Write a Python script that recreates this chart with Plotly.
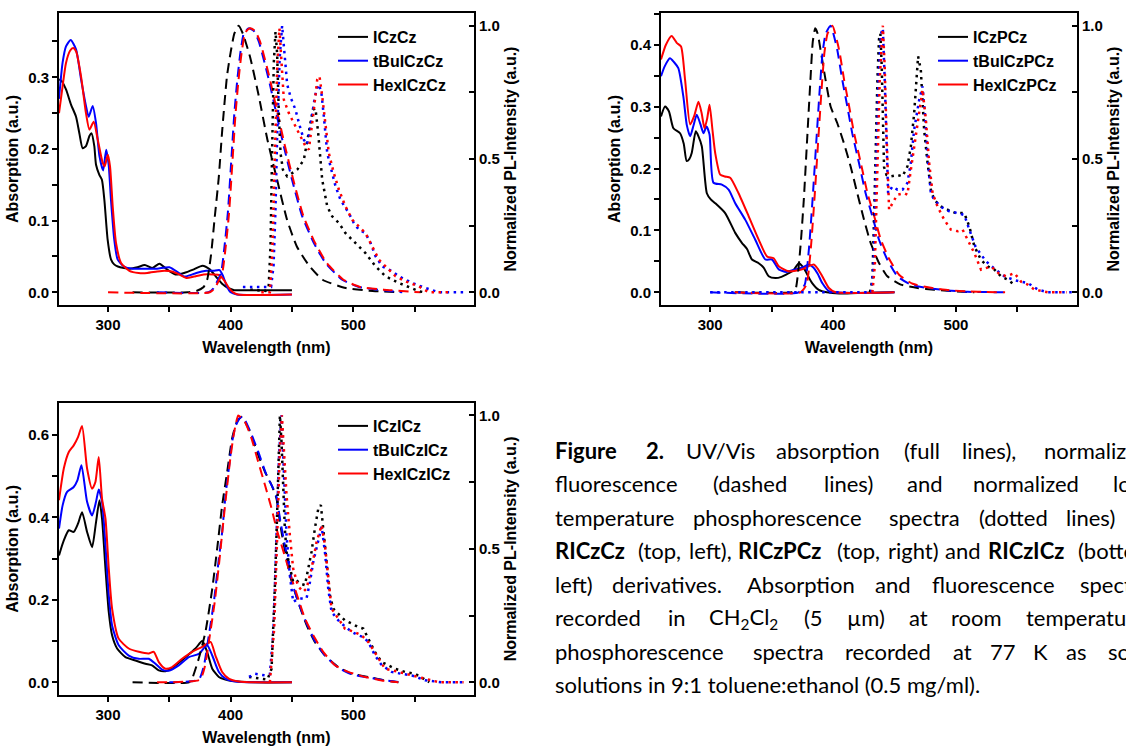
import re
import plotly.graph_objects as go

W, H = 1126, 749
FONT = "Liberation Sans, Arial, sans-serif"
CAP_FONT = "Lato, 'Open Sans', sans-serif"

# ---------------- ICzCz family (top left) ----------------
ICzCz_abs_nm = [260, 262, 265.7, 269.8, 273.9, 276.6, 279.3, 282, 284.8, 286.5, 288.8, 290.2, 292.9, 295, 297, 299.7, 302.4, 305, 308, 313, 318, 324, 330, 336, 342, 348, 355, 362, 370, 377, 383, 388, 393, 398, 403, 410, 450]
ICzCz_abs = [0.297, 0.295, 0.283, 0.262, 0.245, 0.222, 0.201, 0.204, 0.218, 0.222, 0.204, 0.178, 0.164, 0.157, 0.129, 0.073, 0.046, 0.039, 0.036, 0.034, 0.033, 0.035, 0.038, 0.034, 0.040, 0.032, 0.025, 0.027, 0.032, 0.037, 0.032, 0.022, 0.012, 0.006, 0.003, 0.003, 0.003]
tBuICzCz_abs_nm = [260, 262.9, 265.7, 269.5, 273.9, 278, 282, 284.2, 287.5, 290.2, 293, 296, 298.5, 300.5, 302.4, 305.1, 307.8, 313, 320, 330, 340, 350, 357, 362, 367, 372, 380, 386, 391, 394, 397, 400, 405, 450]
tBuICzCz_abs = [0.27, 0.32, 0.343, 0.352, 0.339, 0.297, 0.26, 0.245, 0.26, 0.236, 0.19, 0.17, 0.199, 0.178, 0.129, 0.073, 0.046, 0.036, 0.033, 0.033, 0.033, 0.035, 0.028, 0.022, 0.024, 0.027, 0.03, 0.03, 0.031, 0.022, 0.008, 0.0, -0.003, -0.003]
HexICzCz_abs_nm = [260, 262.9, 265.7, 269, 271.5, 274, 278, 282, 284.8, 288.3, 291.6, 295.6, 297.3, 299.8, 301.6, 303.8, 306.5, 310.6, 317.4, 325, 332, 340, 346, 352, 358, 364, 370, 378, 386, 391, 395, 399, 402, 406, 450]
HexICzCz_abs = [0.25, 0.287, 0.32, 0.337, 0.341, 0.336, 0.301, 0.25, 0.227, 0.238, 0.213, 0.181, 0.176, 0.192, 0.176, 0.12, 0.069, 0.041, 0.03, 0.027, 0.027, 0.029, 0.03, 0.029, 0.025, 0.02, 0.022, 0.025, 0.025, 0.024, 0.016, 0.005, 0.0, -0.003, -0.003]

ICzCz_fl_nm = [320, 365, 372, 378, 381, 384, 387, 390.3, 393, 397, 400, 403, 406.5, 410, 416, 423, 430, 438, 446, 454, 464, 475, 494, 513, 537]
ICzCz_fl = [0, 0, 0.005, 0.02, 0.05, 0.14, 0.28, 0.43, 0.6, 0.81, 0.9, 0.97, 1.0, 0.97, 0.88, 0.735, 0.572, 0.42, 0.272, 0.172, 0.10, 0.047, 0.016, 0.006, 0.0]
tBuICzCz_fl_nm = [340, 382, 386, 390, 392.2, 395, 397.7, 400.4, 403, 405.5, 408, 411, 415, 419, 423, 431, 436.6, 443.4, 450.2, 458.4, 467.9, 477.4, 491, 504.6, 523.7, 540]
tBuICzCz_fl = [0, 0, 0.015, 0.05, 0.072, 0.172, 0.297, 0.485, 0.67, 0.8, 0.9, 0.975, 0.99, 0.98, 0.94, 0.80, 0.685, 0.547, 0.42, 0.285, 0.185, 0.11, 0.047, 0.02, 0.008, 0.0]
HexICzCz_fl_nm = [300, 383, 387, 391, 393.2, 396, 398.7, 401.4, 404, 406.5, 409, 412, 416, 420, 424, 432, 437.6, 444.4, 451.2, 459.4, 468.9, 478.4, 492, 505.6, 524.7, 555]
HexICzCz_fl = [0, 0, 0.015, 0.05, 0.072, 0.172, 0.297, 0.485, 0.67, 0.8, 0.9, 0.975, 0.99, 0.98, 0.94, 0.80, 0.685, 0.547, 0.42, 0.285, 0.185, 0.11, 0.047, 0.02, 0.01, 0.0]

ICzCz_ph_nm = [416, 428.4, 431, 432.5, 433.9, 435.2, 436.6, 437.9, 439.3, 440.7, 442.6, 446.1, 450.2, 454.3, 459.7, 463.8, 467.1, 469.2, 471.4, 474.7, 478.8, 482.8, 488.3, 493.7, 501.9, 510, 518.2, 526.4, 537.3, 548.1, 553.6, 558]
ICzCz_ph = [0.01, 0.005, 0.02, 0.17, 0.547, 0.86, 0.978, 0.897, 0.672, 0.522, 0.46, 0.435, 0.447, 0.46, 0.497, 0.597, 0.685, 0.69, 0.597, 0.422, 0.322, 0.285, 0.26, 0.222, 0.185, 0.147, 0.097, 0.06, 0.035, 0.016, 0.004, 0.0]
tBuICzCz_ph_nm = [410, 425, 433, 435, 436.5, 438, 440, 442, 444, 446.1, 449, 452.9, 456, 459.7, 462.4, 465.1, 467.9, 470, 472, 474, 476, 478.8, 482.8, 485.6, 489.6, 496.4, 500.5, 504.6, 510, 514.1, 518.2, 523.7, 531.8, 537.3, 548.1, 559, 570, 592]
tBuICzCz_ph = [0.02, 0.02, 0.02, 0.1, 0.3, 0.6, 0.88, 1.0, 0.9, 0.78, 0.73, 0.685, 0.63, 0.572, 0.555, 0.622, 0.71, 0.76, 0.78, 0.75, 0.66, 0.522, 0.447, 0.397, 0.347, 0.297, 0.26, 0.235, 0.222, 0.185, 0.135, 0.097, 0.079, 0.06, 0.035, 0.016, 0.0, 0.0]
HexICzCz_ph_nm = [425, 432, 434, 436, 438, 439.8, 441.5, 443.4, 447.5, 451.5, 455.6, 461.1, 463.8, 466, 467.9, 470.6, 472.5, 474.7, 477.4, 480.1, 484, 488.3, 493.7, 499.2, 504.6, 510, 515.5, 521, 529.1, 534.5, 542.7, 553.6, 561.7, 580]
HexICzCz_ph = [0.0, 0.0, 0.15, 0.5, 0.85, 0.99, 0.88, 0.722, 0.672, 0.635, 0.597, 0.547, 0.535, 0.61, 0.685, 0.797, 0.81, 0.735, 0.622, 0.522, 0.45, 0.385, 0.322, 0.272, 0.247, 0.222, 0.172, 0.122, 0.085, 0.06, 0.041, 0.022, 0.0, 0.0]

# ---------------- ICzPCz family (top right) ----------------
ICzPCz_abs_nm = [260, 263.3, 266.5, 270.1, 275.5, 278.5, 280.9, 283, 285.0, 288.3, 290.5, 293.2, 297.3, 300.5, 304.1, 312.2, 320.4, 325.8, 330, 334.0, 339.5, 343.5, 347.6, 353.1, 358, 363.9, 368, 372.1, 376.2, 380, 383.0, 388.4, 395, 405, 420, 450]
ICzPCz_abs = [0.284, 0.300, 0.292, 0.265, 0.257, 0.24, 0.212, 0.215, 0.225, 0.26, 0.252, 0.236, 0.160, 0.15, 0.144, 0.128, 0.096, 0.080, 0.07, 0.053, 0.047, 0.04, 0.026, 0.023, 0.025, 0.031, 0.036, 0.047, 0.039, 0.025, 0.015, 0.004, 0.0, -0.002, -0.001, 0.0]
tBuICzPCz_abs_nm = [260, 263, 267.3, 270.5, 274.1, 278.2, 281, 283.7, 286.5, 289.1, 292, 294.6, 297, 299.5, 302.7, 309.5, 315.0, 320.4, 328.6, 336.7, 344.9, 350.3, 355.8, 362, 369.4, 375, 380.3, 384, 387.5, 391.2, 396.6, 402, 420, 450]
tBuICzPCz_abs = [0.349, 0.365, 0.378, 0.372, 0.362, 0.316, 0.27, 0.252, 0.27, 0.287, 0.272, 0.257, 0.268, 0.255, 0.177, 0.174, 0.166, 0.144, 0.117, 0.085, 0.053, 0.053, 0.037, 0.033, 0.037, 0.04, 0.045, 0.04, 0.03, 0.015, 0.002, 0.0, -0.001, 0.0]
HexICzPCz_abs_nm = [260, 264, 268.7, 272.8, 276.3, 279.6, 283.7, 287, 290.5, 293, 295.4, 297.5, 299.5, 302, 304.1, 308.2, 312, 316.3, 323.1, 331.3, 339.5, 346.3, 351.7, 355.8, 363.9, 374.8, 380, 384.3, 387.6, 391.2, 396.6, 402, 420, 450]
HexICzPCz_abs = [0.376, 0.4, 0.414, 0.403, 0.397, 0.343, 0.271, 0.285, 0.308, 0.29, 0.265, 0.28, 0.303, 0.26, 0.225, 0.19, 0.187, 0.185, 0.160, 0.123, 0.085, 0.058, 0.055, 0.042, 0.034, 0.037, 0.042, 0.045, 0.038, 0.026, 0.007, 0.0, -0.001, 0.0]

ICzPCz_fl_nm = [320, 366, 369.4, 373.5, 376.2, 378.9, 381.6, 383.5, 385.5, 387.5, 389.8, 393.9, 398, 403.4, 408.8, 414.3, 419.7, 425.2, 430.6, 437.4, 444.2, 455.1, 468.7, 482.3, 498.6, 515]
ICzPCz_fl = [0, 0, 0.01, 0.173, 0.347, 0.572, 0.797, 0.94, 0.99, 0.97, 0.91, 0.797, 0.697, 0.635, 0.56, 0.472, 0.372, 0.272, 0.185, 0.11, 0.06, 0.029, 0.016, 0.01, 0.004, 0.0]
tBuICzPCz_fl_nm = [300, 372, 377, 380.5, 383.5, 386.3, 389, 391.5, 394, 398, 403.4, 407.5, 411.6, 415.6, 421.1, 426.5, 432, 437.4, 444.2, 452.4, 463.3, 476.9, 493.2, 509.5, 542]
tBuICzPCz_fl = [0, 0, 0.03, 0.17, 0.36, 0.56, 0.75, 0.9, 0.97, 1.0, 0.91, 0.797, 0.697, 0.597, 0.485, 0.372, 0.285, 0.197, 0.122, 0.06, 0.029, 0.016, 0.007, 0.002, 0.0]
HexICzPCz_fl_nm = [320, 373.5, 378.5, 382, 385, 387.8, 390.5, 393, 395.5, 399.5, 404.9, 409, 413.1, 417.1, 422.6, 428, 433.5, 438.9, 445.7, 453.9, 464.8, 478.4, 494.7, 511, 540]
HexICzPCz_fl = [0, 0, 0.03, 0.17, 0.36, 0.56, 0.75, 0.9, 0.97, 1.0, 0.91, 0.797, 0.697, 0.597, 0.485, 0.372, 0.285, 0.197, 0.125, 0.065, 0.032, 0.018, 0.008, 0.003, 0.0]

ICzPCz_ph_nm = [430, 432, 433.5, 434.7, 436.1, 437.4, 438.5, 439.6, 440.6, 441.5, 443.5, 446.9, 452.4, 456.5, 460.5, 463.3, 466, 468.2, 469.2, 471.4, 472.8, 474.1, 476.9, 479.6, 482.3, 487.7, 493.2, 500, 506.8, 510.9, 515, 520.4, 525.8, 531.3, 536.7, 542.2, 547]
ICzPCz_ph = [0.0, 0.047, 0.3, 0.547, 0.797, 0.95, 0.97, 0.85, 0.62, 0.47, 0.44, 0.435, 0.44, 0.435, 0.472, 0.547, 0.672, 0.822, 0.885, 0.835, 0.735, 0.61, 0.485, 0.385, 0.347, 0.322, 0.31, 0.297, 0.297, 0.247, 0.172, 0.122, 0.097, 0.085, 0.06, 0.047, 0.03]
tBuICzPCz_ph_nm = [300, 431, 433, 435, 437, 439, 440.5, 442, 444.8, 448.3, 452.4, 456.5, 460.5, 463.3, 466, 470.1, 472.8, 474.7, 476.9, 479.6, 482.3, 488, 494, 501.4, 506.8, 510.9, 516, 524.5, 531, 539.5, 548, 558.5, 566.7, 575, 595]
tBuICzPCz_ph = [0, 0.0, 0.1, 0.45, 0.8, 0.97, 0.99, 0.8, 0.372, 0.397, 0.385, 0.385, 0.41, 0.485, 0.61, 0.722, 0.772, 0.672, 0.51, 0.372, 0.347, 0.32, 0.305, 0.297, 0.29, 0.235, 0.17, 0.116, 0.09, 0.06, 0.045, 0.035, 0.01, 0.0, 0.0]
HexICzPCz_ph_nm = [432, 434, 436, 438, 440.5, 442, 443.5, 445.6, 449, 452.4, 457.8, 460.5, 463, 466, 470.1, 472.8, 475.5, 478.2, 481, 485, 490.5, 495.9, 501.4, 505.4, 509.5, 515, 520.4, 524, 528.6, 535, 541, 547.6, 553, 558, 564, 575, 590]
HexICzPCz_ph = [0, 0.1, 0.45, 0.8, 1.0, 0.85, 0.6, 0.31, 0.34, 0.366, 0.372, 0.366, 0.45, 0.547, 0.672, 0.76, 0.65, 0.485, 0.372, 0.322, 0.272, 0.235, 0.229, 0.235, 0.197, 0.147, 0.085, 0.09, 0.097, 0.07, 0.06, 0.072, 0.04, 0.03, 0.01, 0.0, 0.0]

# ---------------- ICzICz family (bottom left) ----------------
ICzICz_abs_nm = [260, 264, 268, 272, 275.5, 278.8, 282.9, 287, 290.2, 293, 295.1, 297.9, 300.6, 303.3, 307.4, 314.2, 322.3, 330.5, 335.9, 341.4, 346.8, 351, 355, 363.2, 371.3, 376.8, 380.8, 385, 390.4, 395, 401, 420, 450]
ICzICz_abs = [0.308, 0.345, 0.369, 0.365, 0.385, 0.413, 0.365, 0.328, 0.389, 0.442, 0.397, 0.276, 0.17, 0.114, 0.082, 0.061, 0.053, 0.045, 0.041, 0.029, 0.027, 0.032, 0.041, 0.061, 0.082, 0.10, 0.074, 0.033, 0.013, 0.007, 0.003, 0.0, 0.0]
tBuICzICz_abs_nm = [260, 263, 266.6, 272, 275, 278.3, 282.9, 287, 290.2, 292.4, 295.1, 297.9, 300.6, 303.3, 308.7, 316.9, 325.1, 333.2, 338.7, 344.1, 349.5, 357.7, 365.9, 374, 380.8, 385, 390.4, 395.8, 404, 420, 450]
tBuICzICz_abs = [0.373, 0.43, 0.462, 0.474, 0.49, 0.527, 0.438, 0.405, 0.438, 0.468, 0.438, 0.332, 0.211, 0.138, 0.09, 0.065, 0.057, 0.057, 0.045, 0.031, 0.028, 0.041, 0.061, 0.069, 0.09, 0.065, 0.025, 0.009, 0.002, 0.0, 0.0]
HexICzICz_abs_nm = [260, 264, 268, 272, 275.5, 278.8, 282.9, 287, 289.7, 292.4, 295.1, 297.9, 300.6, 303.3, 308.7, 316.9, 325.1, 333.2, 337.3, 341.4, 346.8, 352.3, 360.4, 368.6, 376.8, 383.6, 387.6, 393.1, 398.5, 406.7, 420, 450]
HexICzICz_abs = [0.442, 0.52, 0.559, 0.575, 0.595, 0.622, 0.519, 0.47, 0.486, 0.547, 0.446, 0.397, 0.276, 0.179, 0.106, 0.082, 0.074, 0.07, 0.074, 0.049, 0.033, 0.037, 0.057, 0.074, 0.086, 0.098, 0.065, 0.025, 0.009, 0.002, 0.0, 0.0]

ICzICz_fl_nm = [320, 366, 368.6, 374, 379.5, 385, 389, 393.1, 397.2, 401.2, 405, 408.9, 415.7, 422.5, 428, 433.4, 437.4, 440.2, 442.9, 445.6, 448.3, 452.4, 456.5, 462, 468.7, 476.9, 487.8, 498.7, 512.3, 525.9, 536.8]
ICzICz_fl = [0, 0, 0.014, 0.089, 0.19, 0.35, 0.5, 0.664, 0.789, 0.914, 0.975, 0.995, 0.94, 0.851, 0.789, 0.739, 0.689, 0.6, 0.526, 0.464, 0.401, 0.339, 0.282, 0.214, 0.151, 0.101, 0.057, 0.032, 0.02, 0.007, 0.0]
tBuICzICz_fl_nm = [350, 374, 378.1, 382.2, 386.3, 390.4, 393.1, 395.8, 398.5, 401.2, 404, 407.5, 410, 416, 422.5, 429.3, 434.7, 437.4, 440.2, 444.2, 448, 451, 456, 462, 468.7, 476.9, 487.8, 498.7, 512.3, 525.9, 540]
tBuICzICz_fl = [0, 0.01, 0.06, 0.175, 0.3, 0.464, 0.564, 0.7, 0.8, 0.9, 0.96, 0.99, 0.995, 0.94, 0.864, 0.776, 0.726, 0.695, 0.614, 0.514, 0.43, 0.36, 0.29, 0.22, 0.155, 0.1, 0.055, 0.03, 0.018, 0.007, 0.0]
HexICzICz_fl_nm = [340, 375, 379, 383, 387, 391, 394, 396.8, 399.5, 402.2, 404.3, 406.2, 411.6, 417, 422.5, 428, 433.4, 437.4, 441.5, 445.6, 449.7, 455.1, 460.6, 467.4, 475.5, 485.1, 495.9, 509.6, 523.2, 536.8]
HexICzICz_fl = [0, 0.01, 0.06, 0.175, 0.3, 0.464, 0.6, 0.72, 0.83, 0.92, 0.97, 1.0, 0.976, 0.914, 0.826, 0.739, 0.651, 0.576, 0.514, 0.451, 0.389, 0.314, 0.239, 0.176, 0.114, 0.064, 0.039, 0.02, 0.007, 0.0]

ICzICz_ph_nm = [415, 430, 433.4, 434.7, 436.1, 437.4, 438.8, 439.6, 440.2, 441.5, 442.9, 444.2, 445.6, 448.3, 451, 453.8, 456.5, 460.6, 463.3, 466, 468.7, 471.5, 473.6, 475.5, 478.3, 481, 483.7, 487.8, 493.2, 498.7, 504.1, 508.2, 512.3, 517.7, 523.2, 528.6, 534, 542.2, 550.4, 557.2, 562]
ICzICz_ph = [0.02, 0.01, 0.051, 0.176, 0.364, 0.551, 0.801, 0.951, 1.0, 0.9, 0.739, 0.576, 0.489, 0.426, 0.376, 0.382, 0.37, 0.364, 0.426, 0.489, 0.576, 0.651, 0.664, 0.576, 0.426, 0.326, 0.276, 0.257, 0.232, 0.22, 0.207, 0.201, 0.164, 0.114, 0.076, 0.064, 0.051, 0.039, 0.032, 0.014, 0.0]
tBuICzICz_ph_nm = [415, 419.8, 428, 432, 435, 437.5, 439.5, 441.5, 443.7, 445.6, 448.3, 451, 454, 457.9, 461.9, 464.7, 467.4, 471.5, 474.2, 476.9, 479.6, 482.3, 487.8, 493, 498.7, 504.1, 508, 512.3, 517.7, 523.2, 531.3, 539, 547.6, 558.5, 572, 590]
tBuICzICz_ph = [0.02, 0.032, 0.026, 0.03, 0.2, 0.55, 0.85, 1.0, 0.739, 0.551, 0.401, 0.301, 0.31, 0.314, 0.314, 0.376, 0.451, 0.526, 0.583, 0.489, 0.351, 0.264, 0.232, 0.21, 0.189, 0.176, 0.17, 0.151, 0.101, 0.064, 0.039, 0.032, 0.026, 0.008, 0.0, 0.0]
HexICzICz_ph_nm = [432, 435.5, 438, 440, 441.8, 444.2, 445.6, 448.3, 451, 455, 459.2, 461.9, 466, 470.1, 474.2, 476.9, 479.6, 482.3, 487.8, 493.2, 500, 506.8, 512.3, 517.7, 525.9, 536.8, 547.6, 558.5, 570, 590]
HexICzICz_ph = [0.0, 0.2, 0.55, 0.85, 1.0, 0.826, 0.701, 0.551, 0.426, 0.36, 0.339, 0.351, 0.426, 0.526, 0.589, 0.514, 0.38, 0.276, 0.239, 0.201, 0.19, 0.176, 0.151, 0.11, 0.051, 0.039, 0.026, 0.014, 0.0, 0.0]

SPECTRA = {
    "ICzCz": (ICzCz_abs_nm, ICzCz_abs, ICzCz_fl_nm, ICzCz_fl, ICzCz_ph_nm, ICzCz_ph),
    "tBuICzCz": (tBuICzCz_abs_nm, tBuICzCz_abs, tBuICzCz_fl_nm, tBuICzCz_fl, tBuICzCz_ph_nm, tBuICzCz_ph),
    "HexICzCz": (HexICzCz_abs_nm, HexICzCz_abs, HexICzCz_fl_nm, HexICzCz_fl, HexICzCz_ph_nm, HexICzCz_ph),
    "ICzPCz": (ICzPCz_abs_nm, ICzPCz_abs, ICzPCz_fl_nm, ICzPCz_fl, ICzPCz_ph_nm, ICzPCz_ph),
    "tBuICzPCz": (tBuICzPCz_abs_nm, tBuICzPCz_abs, tBuICzPCz_fl_nm, tBuICzPCz_fl, tBuICzPCz_ph_nm, tBuICzPCz_ph),
    "HexICzPCz": (HexICzPCz_abs_nm, HexICzPCz_abs, HexICzPCz_fl_nm, HexICzPCz_fl, HexICzPCz_ph_nm, HexICzPCz_ph),
    "ICzICz": (ICzICz_abs_nm, ICzICz_abs, ICzICz_fl_nm, ICzICz_fl, ICzICz_ph_nm, ICzICz_ph),
    "tBuICzICz": (tBuICzICz_abs_nm, tBuICzICz_abs, tBuICzICz_fl_nm, tBuICzICz_fl, tBuICzICz_ph_nm, tBuICzICz_ph),
    "HexICzICz": (HexICzICz_abs_nm, HexICzICz_abs, HexICzICz_fl_nm, HexICzICz_fl, HexICzICz_ph_nm, HexICzICz_ph),
}
SERIES_COLORS = ["#000000", "#0000ff", "#ff0000"]

# panel frames in pixels: (left, right, top, bottom), plus axis settings
PANELS = [
    dict(names=["ICzCz", "tBuICzCz", "HexICzCz"], box=(59, 474, 13, 305),
         abs_range=[-0.0177, 0.3897], abs_dtick=0.1, abs_minor=0.05, legend_xy=(333, 20)),
    dict(names=["ICzPCz", "tBuICzPCz", "HexICzPCz"], box=(661, 1077, 13, 305),
         abs_range=[-0.0205, 0.4512], abs_dtick=0.1, abs_minor=0.05, legend_xy=(933, 20)),
    dict(names=["ICzICz", "tBuICzICz", "HexICzICz"], box=(59, 474, 402.7, 695),
         abs_range=[-0.0308, 0.6786], abs_dtick=0.2, abs_minor=0.1, legend_xy=(333, 409)),
]
WL_RANGE = [260, 598.5]
PL_RANGE = [-0.0476, 1.0476]

TICKFONT = dict(family=FONT, size=15, color="black", weight="bold")
TITLEFONT = dict(family=FONT, size=16, color="black", weight="bold")
LEGFONT = dict(family=FONT, size=16, color="black", weight="bold")

fig = go.Figure()
layout = dict(width=W, height=H, margin=dict(l=0, r=0, t=0, b=0),
              paper_bgcolor="white", plot_bgcolor="white", showlegend=True,
              annotations=[])


def axis_key(aid, base):
    return base + aid[1:]


for i, p in enumerate(PANELS):
    L, R, T, B = p["box"]
    xdom = [L / W, R / W]
    ydom = [1 - B / H, 1 - T / H]
    xid = "x" if i == 0 else f"x{i + 1}"
    ya_id = "y" if i == 0 else f"y{2 * i + 1}"
    yb_id = f"y{2 * i + 2}"
    xt_id = f"x{i + 4}"
    leg = "legend" if i == 0 else f"legend{i + 1}"

    layout[axis_key(xid, "xaxis")] = dict(
        domain=xdom, anchor=ya_id, range=WL_RANGE, tickmode="array",
        tickvals=[300, 400, 500], ticks="outside", ticklen=5, tickwidth=2, tickcolor="black",
        minor=dict(tickmode="array", tickvals=[350, 450, 550], ticks="outside", ticklen=5,
                   tickwidth=2, tickcolor="black"),
        showline=True, linewidth=2, linecolor="black", mirror=True, showgrid=False,
        zeroline=False, tickfont=TICKFONT, automargin=False,
        title=dict(text="Wavelength (nm)", font=TITLEFONT, standoff=10))
    layout[axis_key(xt_id, "xaxis")] = dict(
        overlaying=xid, anchor=ya_id, side="top", range=WL_RANGE, tickmode="array",
        tickvals=[300, 350, 400, 450, 500, 550], ticks="inside", ticklen=5, tickwidth=2,
        tickcolor="black", showticklabels=False, showline=False, showgrid=False,
        zeroline=False, automargin=False)
    layout[axis_key(ya_id, "yaxis")] = dict(
        domain=ydom, anchor=xid, range=p["abs_range"], dtick=p["abs_dtick"], tick0=0,
        tickformat=".1f", ticks="outside", ticklen=5, tickwidth=2, tickcolor="black",
        minor=dict(dtick=p["abs_minor"], tick0=0, ticks="outside", ticklen=5, tickwidth=2,
                   tickcolor="black"),
        showline=True, linewidth=2, linecolor="black", showgrid=False, zeroline=False,
        tickfont=TICKFONT, automargin=False,
        title=dict(text="Absorption (a.u.)", font=TITLEFONT, standoff=6))
    layout[axis_key(yb_id, "yaxis")] = dict(
        overlaying=ya_id, anchor=xid, side="right", range=PL_RANGE, dtick=0.5, tick0=0,
        tickformat=".1f", ticks="inside", ticklen=5, tickwidth=2, tickcolor="black",
        minor=dict(dtick=0.25, tick0=0, ticks="inside", ticklen=5, tickwidth=2,
                   tickcolor="black"),
        showline=True, linewidth=2, linecolor="black", showgrid=False, zeroline=False,
        tickfont=TICKFONT, automargin=False,
        title=dict(text="Normalized PL-Intensity (a.u.)", font=TITLEFONT, standoff=6))

    lx, ly = p["legend_xy"]
    layout[leg] = dict(x=lx / W, y=1 - ly / H, xanchor="left", yanchor="top",
                       bgcolor="rgba(0,0,0,0)", borderwidth=0, font=LEGFONT,
                       tracegroupgap=0, itemwidth=30)

    for name, color in zip(p["names"], SERIES_COLORS):
        abs_nm, abs_v, fl_nm, fl_v, ph_nm, ph_v = SPECTRA[name]
        fig.add_trace(go.Scatter(
            x=abs_nm, y=abs_v, xaxis=xid, yaxis=ya_id, mode="lines", name=name,
            legend=leg, showlegend=True,
            line=dict(color=color, width=2, shape="spline", smoothing=0.6)))
    for name, color in zip(p["names"], SERIES_COLORS):
        abs_nm, abs_v, fl_nm, fl_v, ph_nm, ph_v = SPECTRA[name]
        fig.add_trace(go.Scatter(
            x=fl_nm, y=fl_v, xaxis=xid, yaxis=yb_id, mode="lines", showlegend=False,
            line=dict(color=color, width=2, dash="10px,6px", shape="spline", smoothing=0.5)))
    for name, color in zip(p["names"], SERIES_COLORS):
        abs_nm, abs_v, fl_nm, fl_v, ph_nm, ph_v = SPECTRA[name]
        fig.add_trace(go.Scatter(
            x=ph_nm, y=ph_v, xaxis=xid, yaxis=yb_id, mode="lines", showlegend=False,
            line=dict(color=color, width=2.5, dash="2.5px,4.5px")))

# ---------------- figure caption, set as a justified paragraph ----------------
CAPTION_LINES = [
    ["*Figure", "*2.", "UV/Vis", "absorption", "(full", "lines),", "normalized"],
    ["fluorescence", "(dashed", "lines)", "and", "normalized", "low-"],
    ["temperature", "phosphorescence", "spectra", "(dotted", "lines)", "of"],
    ["*RICzCz", "(top,", "left),", "*RICzPCz", "(top,", "right)", "and", "*RICzICz", "(bottom,"],
    ["left)", "derivatives.", "Absorption", "and", "fluorescence", "spectra"],
    ["recorded", "in", "CH<sub>2</sub>Cl<sub>2</sub>", "(5", "µm)", "at", "room", "temperature,"],
    ["phosphorescence", "spectra", "recorded", "at", "77", "K", "as", "solid"],
    ["solutions in 9:1 toluene:ethanol (0.5 mg/ml)."],
]
CAP_SIZE = 22
CAP_LEFT, CAP_RIGHT = 553, 1153
CAP_TOP, CAP_STEP = 450, 33.5

# approximate advance widths (1/1000 em) used to lay out the words
_REG = {" ": 278, "(": 333, ")": 333, ",": 278, "-": 333, ".": 278, "/": 278, ":": 278,
        "A": 667, "C": 722, "H": 722, "K": 667, "U": 722, "V": 667, "µ": 556,
        "c": 500, "f": 278, "i": 222, "j": 222, "k": 500, "l": 222, "m": 833, "r": 333,
        "s": 500, "t": 278, "v": 500, "w": 722, "x": 500, "y": 500, "z": 500}
_BOLD = {" ": 278, ".": 278, "C": 722, "F": 611, "I": 278, "P": 667, "R": 722,
         "f": 333, "i": 278, "l": 278, "m": 889, "r": 389, "t": 333, "z": 500,
         "b": 611, "d": 611, "g": 611, "h": 611, "n": 611, "o": 611, "p": 611, "u": 611}
_SCALE = 1.036


def word_width(word, bold):
    table = _BOLD if bold else _REG
    total = 0.0
    for part in re.split(r"(<sub>.*?</sub>)", word):
        if part.startswith("<sub>"):
            inner, k = part[5:-6], 0.7
        else:
            inner, k = part, 1.0
        for ch in inner:
            total += table.get(ch, 556) * k
    return total * CAP_SIZE / 1000 * _SCALE


for row, words in enumerate(CAPTION_LINES):
    y_px = CAP_TOP + row * CAP_STEP
    items = [(w[1:], True) if w.startswith("*") else (w, False) for w in words]
    widths = [word_width(t, b) for t, b in items]
    if len(items) > 1:
        gap = max((CAP_RIGHT - CAP_LEFT - sum(widths)) / (len(items) - 1), 5.0)
    else:
        gap = 0
    x_px = CAP_LEFT
    for (text, bold), w in zip(items, widths):
        layout["annotations"].append(dict(
            text=f"<b>{text}</b>" if bold else text, x=x_px / W, y=1 - y_px / H,
            xref="paper", yref="paper", xanchor="left", yanchor="middle", showarrow=False,
            font=dict(family=CAP_FONT, size=CAP_SIZE, color="black")))
        x_px += w + gap

fig.update_layout(**layout)
fig.write_html("out.html")
